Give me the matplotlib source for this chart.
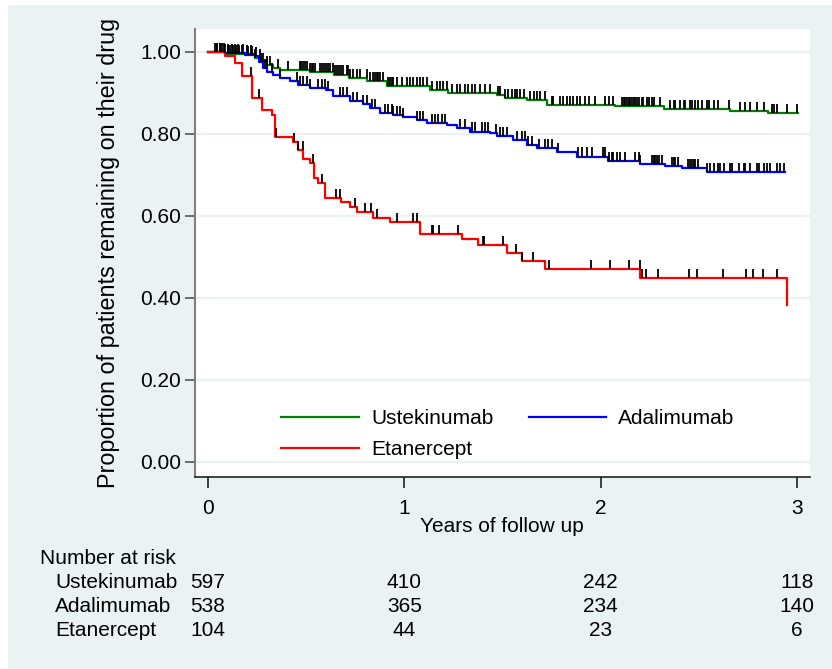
import numpy as np
import matplotlib
matplotlib.use('Agg')
import matplotlib.pyplot as plt
from matplotlib.patches import Rectangle
from matplotlib.transforms import blended_transform_factory

matplotlib.rcParams.update({'font.size': 15, 'font.family': ['Liberation Sans', 'DejaVu Sans']})

# Kaplan-Meier steps (years, proportion remaining)
ust_t = [0, 0.087, 0.239, 0.27, 0.3, 0.33, 0.367, 0.52, 0.64, 0.72, 0.81, 0.91,
         1.13, 1.22, 1.47, 1.513, 1.624, 1.725, 2.073, 2.32, 2.659, 2.854, 3.007]
ust_s = [1.0, 0.995, 0.985, 0.975, 0.967, 0.962, 0.957, 0.950, 0.945, 0.937, 0.929, 0.916,
         0.907, 0.899, 0.895, 0.887, 0.883, 0.871, 0.867, 0.861, 0.857, 0.852, 0.852]

ada_t = [0, 0.087, 0.19, 0.24, 0.26, 0.28, 0.3, 0.33, 0.367, 0.418, 0.46, 0.52, 0.6,
         0.638, 0.723, 0.79, 0.825, 0.876, 0.944, 0.995, 1.063, 1.114, 1.216, 1.267, 1.335,
         1.437, 1.471, 1.555, 1.624, 1.674, 1.776, 1.878, 2.039, 2.2, 2.328, 2.413, 2.54, 2.939]
ada_s = [1.0, 0.997, 0.993, 0.990, 0.975, 0.962, 0.952, 0.943, 0.937, 0.929, 0.920, 0.912, 0.908,
         0.892, 0.880, 0.872, 0.863, 0.851, 0.847, 0.842, 0.834, 0.826, 0.822, 0.814, 0.806,
         0.802, 0.794, 0.785, 0.773, 0.765, 0.757, 0.745, 0.735, 0.727, 0.722, 0.716, 0.707, 0.707]

eta_t = [0, 0.087, 0.138, 0.172, 0.223, 0.273, 0.324, 0.341, 0.435, 0.46, 0.486, 0.519, 0.54,
         0.562, 0.596, 0.676, 0.723, 0.761, 0.839, 0.927, 1.08, 1.292, 1.377, 1.522, 1.601,
         1.717, 2.201, 2.951]
eta_s = [1.0, 0.990, 0.972, 0.941, 0.887, 0.859, 0.846, 0.793, 0.781, 0.761, 0.738, 0.729, 0.692,
         0.681, 0.645, 0.635, 0.623, 0.610, 0.596, 0.585, 0.555, 0.543, 0.528, 0.509, 0.490,
         0.471, 0.448, 0.383]

# censoring times
ust_c = [0.036, 0.045, 0.06, 0.07, 0.08, 0.1, 0.112, 0.13, 0.145, 0.16, 0.172, 0.2, 0.22, 0.239,
         0.265, 0.28, 0.3, 0.316, 0.358, 0.409, 0.469, 0.476, 0.485, 0.494, 0.503, 0.52, 0.528,
         0.537, 0.545, 0.571, 0.58, 0.59, 0.6, 0.612, 0.622, 0.638, 0.647, 0.656, 0.665, 0.675,
         0.689, 0.707, 0.715, 0.723, 0.74, 0.757, 0.774, 0.808, 0.825, 0.842, 0.851, 0.86, 0.868,
         0.876, 0.893, 0.918, 0.927, 0.935, 0.944, 0.961, 0.986, 1.012, 1.029, 1.046, 1.063,
         1.08, 1.097, 1.114, 1.14, 1.165, 1.182, 1.199, 1.216, 1.241, 1.267, 1.284, 1.309, 1.326,
         1.343, 1.36, 1.386, 1.411, 1.437, 1.479, 1.488, 1.513, 1.53, 1.547, 1.564, 1.573, 1.59,
         1.607, 1.641, 1.658, 1.675, 1.692, 1.717, 1.751, 1.759, 1.793, 1.81, 1.827, 1.844, 1.861,
         1.878, 1.895, 1.921, 1.938, 1.972, 2.023, 2.04, 2.065, 2.108, 2.117, 2.125, 2.134, 2.142,
         2.151, 2.159, 2.168, 2.176, 2.185, 2.193, 2.21, 2.218, 2.235, 2.244, 2.26, 2.269, 2.303,
         2.354, 2.371, 2.379, 2.405, 2.422, 2.43, 2.456, 2.464, 2.481, 2.498, 2.515, 2.541, 2.55,
         2.575, 2.6, 2.651, 2.711, 2.736, 2.762, 2.796, 2.83, 2.872, 2.881, 2.898, 2.949, 3.0]
ada_c = [0.045, 0.06, 0.087, 0.1, 0.12, 0.138, 0.155, 0.18, 0.205, 0.222, 0.245, 0.27, 0.29,
         0.299, 0.324, 0.367, 0.452, 0.469, 0.486, 0.503, 0.52, 0.562, 0.579, 0.596, 0.613, 0.672,
         0.689, 0.707, 0.74, 0.757, 0.791, 0.808, 0.833, 0.85, 0.901, 0.918, 0.935, 0.944, 0.961,
         0.978, 0.995, 1.063, 1.08, 1.097, 1.14, 1.156, 1.173, 1.19, 1.207, 1.284, 1.309, 1.343,
         1.36, 1.394, 1.411, 1.428, 1.467, 1.488, 1.505, 1.522, 1.576, 1.598, 1.615, 1.632, 1.649,
         1.688, 1.717, 1.734, 1.751, 1.785, 1.887, 1.904, 1.929, 1.955, 2.014, 2.023, 2.04, 2.056,
         2.065, 2.082, 2.099, 2.125, 2.176, 2.193, 2.201, 2.261, 2.27, 2.278, 2.286, 2.295, 2.312,
         2.363, 2.371, 2.38, 2.396, 2.447, 2.456, 2.464, 2.473, 2.481, 2.498, 2.541, 2.558, 2.575,
         2.6, 2.609, 2.626, 2.66, 2.668, 2.702, 2.728, 2.736, 2.762, 2.796, 2.805, 2.83, 2.847,
         2.864, 2.898, 2.915, 2.932]
eta_c = [0.22, 0.26, 0.345, 0.44, 0.46, 0.485, 0.537, 0.582, 0.652, 0.672, 0.749, 0.8, 0.83,
         0.859, 0.961, 1.043, 1.065, 1.139, 1.146, 1.175, 1.272, 1.399, 1.408, 1.505, 1.569,
         1.601, 1.654, 1.739, 1.95, 2.048, 2.146, 2.2, 2.212, 2.23, 2.294, 2.45, 2.49, 2.625,
         2.739, 2.775, 2.826, 2.897]

groups = ['Ustekinumab', 'Adalimumab', 'Etanercept']
colors = ['#008000', '#0000ff', '#ff0000']
risk_times = [0, 1, 2, 3]
risk_ust = [597, 410, 242, 118]
risk_ada = [538, 365, 234, 140]
risk_eta = [104, 44, 23, 6]

W, H = 832, 669
fig = plt.figure(figsize=(W/100., H/100.), dpi=100, facecolor='white')
fig.patches.append(Rectangle((8./W, 0), 1 - 8./W, 1 - 5./H, transform=fig.transFigure,
                             facecolor='#eaf2f3', edgecolor='none', zorder=-10))

ax = fig.add_axes([195./W, 1 - 477./H, 615./W, 448./H])
ax.set_zorder(1)
ax.set_facecolor('white')
ax.set_xlim(-0.066, 3.066)
ax.set_ylim(-0.0366, 1.056)

for y in np.arange(0, 1.01, 0.2):
    ax.axhline(y, color='#eaf2f3', lw=1.6, zorder=1)

lines = []
for tt, ss, cc, col, name in [(ust_t, ust_s, ust_c, colors[0], groups[0]),
                              (ada_t, ada_s, ada_c, colors[1], groups[1]),
                              (eta_t, eta_s, eta_c, colors[2], groups[2])]:
    l, = ax.step(tt, ss, where='post', color=col, lw=1.6, label=name, zorder=3)
    lines.append(l)
    tt = np.array(tt); ss = np.array(ss)
    idx = np.searchsorted(tt, cc, side='right') - 1
    ax.vlines(cc, ss[idx], ss[idx] + 0.022, color='black', lw=1.3, zorder=4)

leg = ax.legend([lines[0], lines[2], lines[1]], [groups[0], groups[2], groups[1]], ncol=2,
                frameon=False, handlelength=3.7, handletextpad=0.6, columnspacing=1.7,
                labelspacing=0.55, borderpad=0, loc='upper left',
                bbox_to_anchor=(271./W, 1 - 399./H), bbox_transform=fig.transFigure)

ax.set_yticks(np.arange(0, 1.01, 0.2))
ax.set_yticklabels(['%.2f' % v for v in np.arange(0, 1.01, 0.2)])
ax.set_xticks(risk_times)
ax.tick_params(axis='y', length=7, width=1.2, color='#555555', pad=3)
ax.tick_params(axis='x', length=8, width=1.2, color='#222222', pad=8)
for s in ['top', 'right']:
    ax.spines[s].set_visible(False)
ax.spines['left'].set_color('#7f7f7f')
ax.spines['left'].set_linewidth(1.5)
ax.spines['bottom'].set_color('#222222')
ax.spines['bottom'].set_linewidth(1.2)

fig.text(108./W, 1 - 253./H, 'Proportion of patients remaining on their drug',
         rotation=90, ha='center', va='center', fontsize=16.8)
fig.text(502./W, 1 - 526./H, 'Years of follow up', ha='center', va='center')

# number at risk table
fig.text(40./W, 1 - 558./H, 'Number at risk', ha='left', va='center')
trans = blended_transform_factory(ax.transData, fig.transFigure)
for k, (name, vals) in enumerate(zip(groups, [risk_ust, risk_ada, risk_eta])):
    yy = 1 - (583. + 24*k)/H
    fig.text(55./W, yy, name, ha='left', va='center')
    for t, v in zip(risk_times, vals):
        ax.text(t, yy, str(v), transform=trans, ha='center', va='center', clip_on=False)

plt.savefig('out.png', dpi=100)
